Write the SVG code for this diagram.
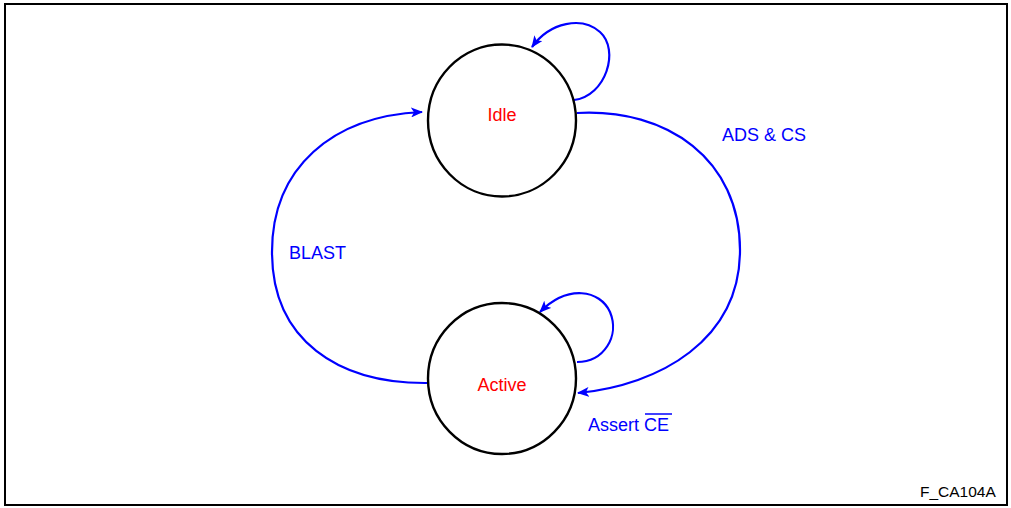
<svg xmlns="http://www.w3.org/2000/svg" width="1011" height="508" viewBox="0 0 1011 508">
<style>
.state{fill:#fff;stroke:#000;stroke-width:2.4}
.name{font-family:"Liberation Sans",Arial,sans-serif;font-size:18px;fill:#ff0000;text-anchor:middle}
.edge{fill:none;stroke:#0000ff;stroke-width:2.2}
.lbl{font-family:"Liberation Sans",Arial,sans-serif;font-size:18px;fill:#0000ff}
</style>
<defs>
<marker id="ah" markerWidth="12" markerHeight="10" refX="11" refY="5" orient="auto" markerUnits="userSpaceOnUse">
<path d="M0,0 L12,5 L0,10 L3,5 Z" fill="#0000ff"/>
</marker>
</defs>
<rect x="5" y="4" width="1002" height="501" fill="#fff" stroke="#000" stroke-width="2"/>
<g id="connectors">
<path class="edge" d="M574,100 C606,96 620,50 600,32 C582,16 550,22 532,47" marker-end="url(#ah)"/>
<path class="edge" d="M577,362 C604,362 620,336 610,312 C600,290 568,284 540,312" marker-end="url(#ah)"/>
<path class="edge" d="M577,113 C668,108 740,160 740,250 C740,340 660,385 578,393" marker-end="url(#ah)"/>
<path class="edge" d="M428,383 C338,384 272,340 272,252 C272,168 332,116 422,112" marker-end="url(#ah)"/>
</g>
<g id="idle">
<ellipse class="state" cx="502" cy="120.5" rx="74" ry="76"/>
<text class="name" x="502" y="121">Idle</text>
</g>
<g id="active">
<ellipse class="state" cx="502" cy="378.5" rx="74" ry="75.5"/>
<text class="name" x="502" y="391">Active</text>
</g>
<g id="labels">
<text class="lbl" x="722" y="141">ADS &amp; CS</text>
<text class="lbl" x="289" y="259">BLAST</text>
<text class="lbl" x="588" y="431">Assert CE</text>
<line x1="645" y1="414" x2="672" y2="414" stroke="#0000ff" stroke-width="1.5"/>
<text x="920" y="497" font-family="Liberation Sans,Arial,sans-serif" font-size="15.5" fill="#000">F_CA104A</text>
</g>
</svg>
